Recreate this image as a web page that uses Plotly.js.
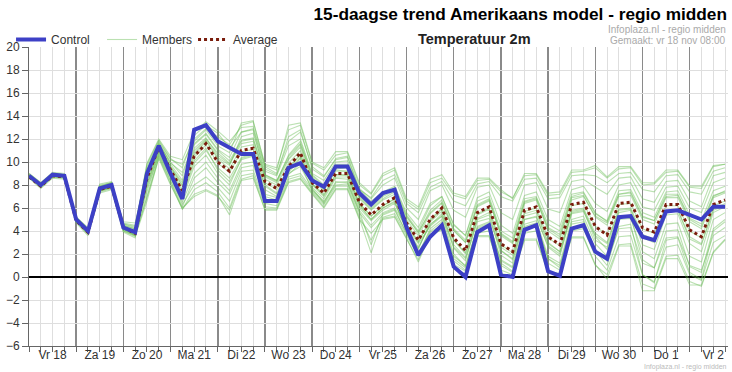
<!DOCTYPE html>
<html>
<head>
<meta charset="utf-8">
<script src="https://cdn.plot.ly/plotly-3.0.1.min.js"></script>
<style>html,body{margin:0;padding:0;background:#fff;}#chart{width:732px;height:372px;}</style>
</head>
<body>
<div id="chart"></div>
<script>
// hours since Fri 18 Nov 00:00 (6-hourly steps)
var hours = [0,6,12,18,24,30,36,42,48,54,60,66,72,78,84,90,96,102,108,114,120,126,132,138,144,150,156,162,168,174,180,186,192,198,204,210,216,222,228,234,240,246,252,258,264,270,276,282,288,294,300,306,312,318,324,330,336,342,348,354];
var dayCenters = [12,36,60,84,108,132,156,180,204,228,252,276,300,324,348];
var dayLabels = ["Vr 18","Za 19","Zo 20","Ma 21","Di 22","Wo 23","Do 24","Vr 25","Za 26","Zo 27","Ma 28","Di 29","Wo 30","Do 1","Vr 2"];

var control = [8.8,8.0,8.9,8.8,5.0,4.0,7.7,8.0,4.3,3.9, 9.0,11.4,9.0,6.8,12.8,13.2,11.8,11.2,10.7,10.7, 6.6,6.6,9.5,9.9,8.4,7.85,9.6,9.6,7.3,6.3, 7.3,7.6,4.3,1.9,3.5,4.5,0.9,0.0,3.9,4.5, 0.2,0.0,4.1,4.5,0.5,0.1,4.2,4.5,2.2,1.6, 5.2,5.3,3.5,3.2,5.7,5.8,5.4,5.0,6.1,6.1];
var average = [8.7,7.9,8.8,8.7,4.9,3.9,7.6,7.9,4.3,3.8, 8.6,11.3,9.3,7.5,10.5,11.6,10.0,9.2,11.0,11.2, 8.3,7.7,9.6,10.8,8.2,7.3,9.0,9.0,6.5,5.4, 6.3,6.9,4.7,3.2,5.0,6.0,3.4,2.3,5.6,6.1, 2.9,2.2,5.8,6.1,3.5,2.8,6.3,6.5,4.4,3.65, 6.4,6.5,4.3,3.9,6.3,6.3,4.1,3.5,6.3,6.7];

var member01 = [8.9,8.1,9.0,8.9,5.1,4.2,7.9,8.2,4.6,4.4, 9.6,11.8,10.2,9.8,12.0,12.9,12.2,11.5,13.2,13.5, 9.8,9.5,12.8,13.2,9.9,9.3,10.6,10.8,8.0,7.2, 8.8,9.3,6.6,5.9,8.2,8.6,7.1,6.8,8.4,8.5, 7.4,6.9,8.8,8.9,7.1,7.2,9.1,9.2,9.5,8.6, 9.4,9.5,8.0,8.1,9.1,9.2,7.8,7.7,9.6,9.8];
var member02 = [8.7,7.8,8.7,8.6,4.8,3.7,7.5,7.8,4.0,3.5, 6.6,10.4,8.1,5.9,7.2,7.6,7.1,5.4,8.4,8.6, 5.9,5.9,8.3,8.6,7.3,6.1,7.7,7.7,5.1,2.1, 5.1,5.3,3.4,1.3,3.7,4.2,0.7,0.3,3.6,3.6, 0.3,0.1,3.3,3.3,0.5,0.3,3.5,3.5,1.1,-0.2, 2.7,2.7,-1.2,-1.2,1.6,1.6,-0.7,-0.7,2.2,3.3];
var member03 = [8.8,8.0,8.9,8.8,5.0,4.1,7.8,8.1,4.8,4.7, 9.0,11.5,9.6,8.0,11.2,12.1,10.6,9.8,11.6,11.8, 8.7,8.2,10.2,11.3,8.6,7.8,9.4,9.5,6.9,5.9, 6.8,7.4,5.2,3.9,5.6,6.5,4.1,3.0,6.2,6.7, 3.6,2.9,6.4,6.7,4.2,3.5,6.9,7.1,5.2,4.5, 7.0,7.1,5.0,4.6,6.9,6.9,4.8,4.2,6.9,7.3];
var member04 = [8.6,7.9,8.8,8.7,4.9,3.8,7.4,7.7,4.1,3.6, 8.1,11.0,9.0,7.0,9.9,11.0,9.5,8.6,10.4,10.7, 7.9,7.2,9.1,10.3,7.8,6.8,8.6,8.5,6.0,4.9, 5.8,6.4,4.2,2.6,4.5,5.5,2.8,1.7,5.1,5.6, 2.3,1.6,5.3,5.6,2.9,2.2,5.8,6.0,3.8,3.0, 5.9,6.0,3.7,3.3,5.8,5.8,3.5,2.9,5.8,6.2];
var member05 = [9.0,8.2,9.1,9.0,5.2,4.3,8.1,8.3,4.5,4.2, 9.9,12.0,10.5,10.2,12.6,13.5,12.7,11.8,13.0,13.1, 9.6,9.0,11.8,12.6,9.6,8.8,10.2,10.4,7.6,6.6, 7.4,7.9,5.6,4.3,6.4,7.0,4.5,3.6,6.6,7.0, 4.0,3.4,6.8,7.0,4.6,4.0,7.2,7.4,5.6,4.8, 7.2,7.3,5.2,4.9,7.2,7.2,5.1,4.6,7.1,7.4];
var member06 = [8.8,7.9,8.8,8.7,4.9,3.9,7.6,7.9,4.2,3.7, 7.4,10.7,8.6,6.3,8.0,8.7,7.8,6.6,9.2,9.3, 6.4,6.2,8.7,9.0,7.6,6.6,8.0,8.1,5.6,4.3, 5.4,5.8,3.8,2.1,4.0,4.8,1.8,1.0,4.2,4.6, 1.5,0.9,4.3,4.5,1.6,1.0,4.6,4.8,2.4,1.4, 4.2,4.3,1.2,0.8,3.4,3.5,1.0,0.6,3.6,4.3];
var member07 = [8.7,8.0,9.0,8.9,5.1,4.0,7.7,8.0,4.4,4.0, 8.8,11.4,9.5,7.9,10.8,11.9,10.4,9.7,12.2,12.5, 9.2,8.8,11.4,12.0,9.0,8.4,10.0,10.1,7.6,6.9, 8.4,8.9,6.4,5.6,7.8,8.3,6.6,6.2,8.1,8.3, 7.0,6.6,8.5,8.6,6.8,6.9,8.8,8.9,8.8,8.2, 9.0,9.1,7.6,7.4,8.8,8.9,7.4,7.2,9.2,9.5];
var member08 = [8.9,8.1,8.9,8.8,5.0,4.0,7.8,8.1,4.3,3.8, 8.3,11.1,9.1,7.2,10.1,11.2,9.3,8.3,10.2,10.5, 7.6,7.0,9.2,10.4,8.0,7.0,8.7,8.7,6.2,5.0, 6.0,6.6,4.0,2.4,4.8,5.7,2.5,1.4,5.0,5.4, 1.9,1.2,5.0,5.3,2.6,1.8,5.6,5.8,3.2,2.6, 5.6,5.8,2.8,2.4,5.4,5.5,2.9,2.2,5.6,6.1];
var member09 = [8.6,7.7,8.6,8.5,4.7,3.6,7.3,7.6,3.9,3.4, 9.4,11.7,9.9,9.1,11.6,12.5,11.1,10.4,12.6,12.8, 8.9,8.4,10.5,11.6,8.7,7.6,9.2,9.2,6.3,5.0, 6.0,6.5,4.1,2.5,4.6,5.3,2.0,0.9,4.4,4.8, 1.2,0.5,4.4,4.7,1.6,0.8,4.8,5.0,2.3,1.0, 4.4,4.6,0.2,-0.5,3.2,3.4,0.4,-0.2,4.0,4.8];
var member10 = [8.8,8.0,8.8,8.7,5.0,3.9,7.6,7.9,4.4,4.1, 8.7,11.3,9.4,7.6,10.6,11.8,10.3,9.4,11.3,11.5, 8.5,8.0,9.9,11.0,8.4,7.5,9.3,9.2,6.8,5.8, 6.7,7.2,5.0,3.6,5.5,6.4,4.0,3.0,6.1,6.6, 3.7,3.0,6.5,6.8,4.0,3.3,6.7,7.0,5.3,4.7, 7.2,7.4,5.3,4.9,7.0,7.1,5.0,4.4,7.0,7.5];
var member11 = [8.9,8.1,9.0,8.9,5.2,4.1,7.9,8.2,4.7,4.5, 9.2,11.6,10.0,8.8,11.8,12.8,11.4,10.8,13.4,13.6, 9.7,9.3,13.2,13.4,10.0,9.5,10.9,10.9,8.2,7.3, 9.0,9.5,6.8,6.1,8.5,8.9,7.3,7.0,8.6,8.6, 7.6,6.8,9.0,9.0,7.3,7.4,9.3,9.3,9.7,8.7, 9.6,9.6,8.2,8.2,9.3,9.3,7.9,7.9,9.7,9.8];
var member12 = [8.7,7.9,8.8,8.8,4.9,3.8,7.5,7.8,4.1,3.7, 8.0,10.9,8.8,6.8,9.6,10.6,9.0,8.0,10.3,10.6, 8.0,7.3,9.4,10.6,8.1,7.1,8.9,8.8,6.4,5.3, 6.2,6.8,4.6,3.0,5.0,6.0,3.2,2.0,5.4,5.9, 2.6,1.9,5.5,5.8,3.0,2.2,5.7,5.9,3.5,2.4, 5.2,5.3,1.5,0.8,4.0,4.1,0.9,0.4,4.2,5.0];
var member13 = [8.8,8.0,8.9,8.8,5.0,4.0,7.7,8.0,4.3,3.9, 7.7,10.6,8.4,6.1,8.6,9.5,8.2,7.2,9.5,9.7, 7.0,6.7,9.0,9.6,7.7,6.4,8.2,8.3,5.8,4.5, 5.6,6.0,4.3,2.9,4.4,5.3,2.6,1.6,4.8,5.1, 2.3,1.5,5.0,5.2,2.7,2.0,5.5,5.7,3.6,2.9, 5.8,5.9,3.4,3.0,5.7,5.8,3.3,2.8,5.9,6.4];
var member14 = [8.9,8.1,8.9,8.9,5.1,4.1,7.8,8.1,4.5,4.2, 9.1,11.6,9.8,8.4,11.5,12.4,11.0,10.1,11.9,12.1, 8.8,8.3,10.6,11.8,8.9,8.0,9.8,9.8,7.1,6.2, 7.1,7.8,5.4,4.0,6.2,7.0,4.6,3.6,6.9,7.4, 4.5,3.8,7.1,7.4,5.0,4.4,7.6,7.9,6.4,5.7, 8.0,8.2,6.1,5.8,7.8,7.9,6.0,5.6,8.2,8.6];
var member15 = [8.7,7.9,8.7,8.7,4.9,3.8,7.5,7.8,4.2,3.6, 7.0,10.5,8.3,5.9,7.6,8.2,7.4,6.0,8.8,9.0, 6.1,6.0,8.5,8.8,7.4,6.3,7.9,7.9,5.3,3.2, 5.2,5.5,3.6,1.8,3.9,4.5,1.4,0.6,3.8,4.0, 1.0,0.4,3.8,4.0,1.2,0.6,4.0,4.2,1.8,0.6, 3.5,3.6,0.2,-0.4,2.6,2.8,0.2,-0.3,3.0,3.6];
var member16 = [8.8,8.0,8.9,8.8,5.0,4.0,7.7,8.0,4.3,3.9, 8.5,11.2,9.3,7.4,10.4,11.5,9.9,9.1,10.9,11.1, 8.2,7.6,9.5,10.7,8.1,7.2,8.9,8.9,6.4,5.3, 6.2,6.8,4.6,3.1,4.9,5.9,3.2,2.1,5.5,6.0, 2.8,2.1,5.7,6.0,3.4,2.7,6.2,6.4,4.4,3.7, 6.3,6.4,4.2,3.8,6.2,6.2,4.0,3.4,6.2,6.6];
var member17 = [8.8,8.1,9.0,8.9,5.1,4.0,7.8,8.1,4.6,4.3, 9.8,11.9,10.3,9.5,12.3,13.2,12.5,11.2,12.6,12.9, 9.4,8.9,12.2,12.8,9.4,8.7,10.3,10.5,7.7,6.8, 8.0,8.6,6.0,5.0,7.5,8.0,5.8,5.2,7.8,8.0, 5.6,5.0,8.0,8.2,5.9,5.6,8.3,8.5,7.8,7.2, 8.6,8.7,6.8,6.5,8.3,8.4,6.6,6.1,8.8,9.1];
var member18 = [8.7,7.8,8.7,8.6,4.8,3.8,7.5,7.7,4.0,3.6, 6.9,10.3,8.0,6.0,7.0,7.5,7.0,5.8,8.5,8.8, 5.8,5.8,8.2,8.5,7.2,6.0,7.6,7.6,5.0,3.8, 5.0,5.2,3.3,1.5,3.6,4.1,1.1,0.5,3.5,3.5, 0.6,0.2,3.2,3.2,0.4,0.2,3.4,3.4,1.0,0.2, 2.8,2.9,-0.6,-1.0,1.8,1.9,-0.4,-0.8,2.1,3.2];
var member19 = [9.0,8.2,9.0,8.9,5.2,4.2,8.0,8.2,4.4,4.0, 8.9,11.5,9.6,8.2,11.0,12.0,10.8,9.9,11.8,12.0, 8.9,8.4,10.3,11.5,8.8,7.9,9.6,9.6,7.0,6.0, 7.0,7.5,5.3,3.8,5.8,6.7,4.2,3.2,6.3,6.8, 3.8,3.1,6.6,6.9,4.3,3.7,7.0,7.3,5.5,4.9, 7.5,7.6,5.6,5.2,7.4,7.5,5.4,4.9,7.5,7.9];
var member20 = [8.7,7.9,8.8,8.7,4.9,3.9,7.6,7.9,4.2,3.8, 7.9,10.8,8.7,6.5,9.0,10.0,8.6,7.5,9.8,10.0, 7.2,6.9,8.9,9.9,7.5,6.5,8.3,8.2,5.7,2.8, 5.5,5.9,3.8,1.9,4.2,5.0,1.6,0.8,4.3,4.7, 1.4,0.8,4.6,4.9,1.8,1.2,5.0,5.3,2.9,1.8, 5.0,5.1,2.2,1.6,4.6,4.7,1.8,1.3,5.0,5.6];

var members = [member01,member02,member03,member04,member05,member06,member07,member08,member09,member10,
               member11,member12,member13,member14,member15,member16,member17,member18,member19,member20];

var FONT = 'Liberation Sans, Arial, sans-serif';
var traces = [];
members.forEach(function (m, k) {
  traces.push({
    type: 'scatter', mode: 'lines', x: hours, y: m,
    name: 'Members', legendgroup: 'members', showlegend: k === 0, legendrank: 2,
    line: {color: 'rgba(105,188,85,0.45)', width: 1.1},
    hoverinfo: 'skip'
  });
});
traces.push({
  type: 'scatter', mode: 'lines', x: hours, y: average, xaxis: 'x2',
  name: 'Average', legendrank: 3,
  line: {color: '#7a1c0c', width: 3, dash: 'dot'}
});
traces.push({
  type: 'scatter', mode: 'lines', x: hours, y: control, xaxis: 'x2',
  name: 'Control', legendrank: 1,
  line: {color: '#3d40c6', width: 4}
});

var layout = {
  width: 732, height: 372,
  margin: {l: 29, r: 4, t: 47, b: 26},
  paper_bgcolor: '#fff', plot_bgcolor: '#fff',
  font: {family: FONT, size: 12, color: '#333'},
  showlegend: true,
  legend: {
    orientation: 'h', x: -0.0257, xanchor: 'left', y: 1 - 7 / 299, yanchor: 'bottom',
    entrywidth: 46, entrywidthmode: 'pixels', itemwidth: 30,
    font: {family: FONT, size: 12, color: '#333'}, bgcolor: 'rgba(0,0,0,0)'
  },
  title: {
    text: '<b>15-daagse trend Amerikaans model - regio midden</b>',
    font: {family: FONT, size: 17.25, color: '#000'},
    xref: 'container', x: 727 / 732, xanchor: 'right',
    yref: 'container', y: 1 - 14 / 372, yanchor: 'middle'
  },
  xaxis: {
    range: [0, 355.5], tick0: 0, dtick: 24, showticklabels: false,
    showgrid: true, gridcolor: '#8a8a8a', gridwidth: 1.5,
    ticks: 'outside', ticklen: 5, tickcolor: '#666', tickwidth: 1,
    showline: true, linecolor: '#666', linewidth: 1, zeroline: false,
    minor: {tick0: 0, dtick: 6, showgrid: true, gridcolor: '#dedede', gridwidth: 1,
            ticks: 'outside', ticklen: 5, tickcolor: '#666'},
    fixedrange: true
  },
  xaxis2: {
    overlaying: 'x', matches: 'x', side: 'bottom',
    tickmode: 'array', tickvals: dayCenters, ticktext: dayLabels,
    showgrid: false, ticks: '', showline: false, zeroline: false, ticklabelstandoff: 0,
    tickfont: {family: FONT, size: 12, color: '#333'}
  },
  yaxis: {
    range: [-6, 20], tick0: -6, dtick: 2,
    showgrid: true, gridcolor: '#dedede', gridwidth: 1,
    ticks: 'outside', ticklen: 6, tickcolor: '#666',
    showline: true, linecolor: '#666', linewidth: 1,
    zeroline: true, zerolinecolor: '#000', zerolinewidth: 2.5,
    tickfont: {family: FONT, size: 12, color: '#333'},
    fixedrange: true
  },
  annotations: [
    {text: '<b>Temperatuur 2m</b>', xref: 'paper', yref: 'paper', x: (474 - 29) / 699, y: 1 + (47 - 39) / 299,
     xanchor: 'center', yanchor: 'middle', showarrow: false, font: {family: FONT, size: 14.5, color: '#222'}},
    {text: 'Infoplaza.nl - regio midden', xref: 'paper', yref: 'paper', x: 1, y: 1 + (47 - 29) / 299,
     xanchor: 'right', yanchor: 'middle', showarrow: false, font: {family: FONT, size: 10, color: '#aaa'}},
    {text: 'Gemaakt: vr 18 nov 08:00', xref: 'paper', yref: 'paper', x: 1, y: 1 + (47 - 40) / 299,
     xanchor: 'right', yanchor: 'middle', showarrow: false, font: {family: FONT, size: 10, color: '#aaa'}},
    {text: 'Infoplaza.nl - regio midden', xref: 'paper', yref: 'paper', x: 1, y: (346 - 372) / 299,
     xanchor: 'right', yanchor: 'bottom', showarrow: false, borderpad: 0,
     font: {family: FONT, size: 7, color: '#bbb'}}
  ]
};

Plotly.newPlot('chart', traces, layout, {staticPlot: true, displayModeBar: false});
</script>
</body>
</html>
